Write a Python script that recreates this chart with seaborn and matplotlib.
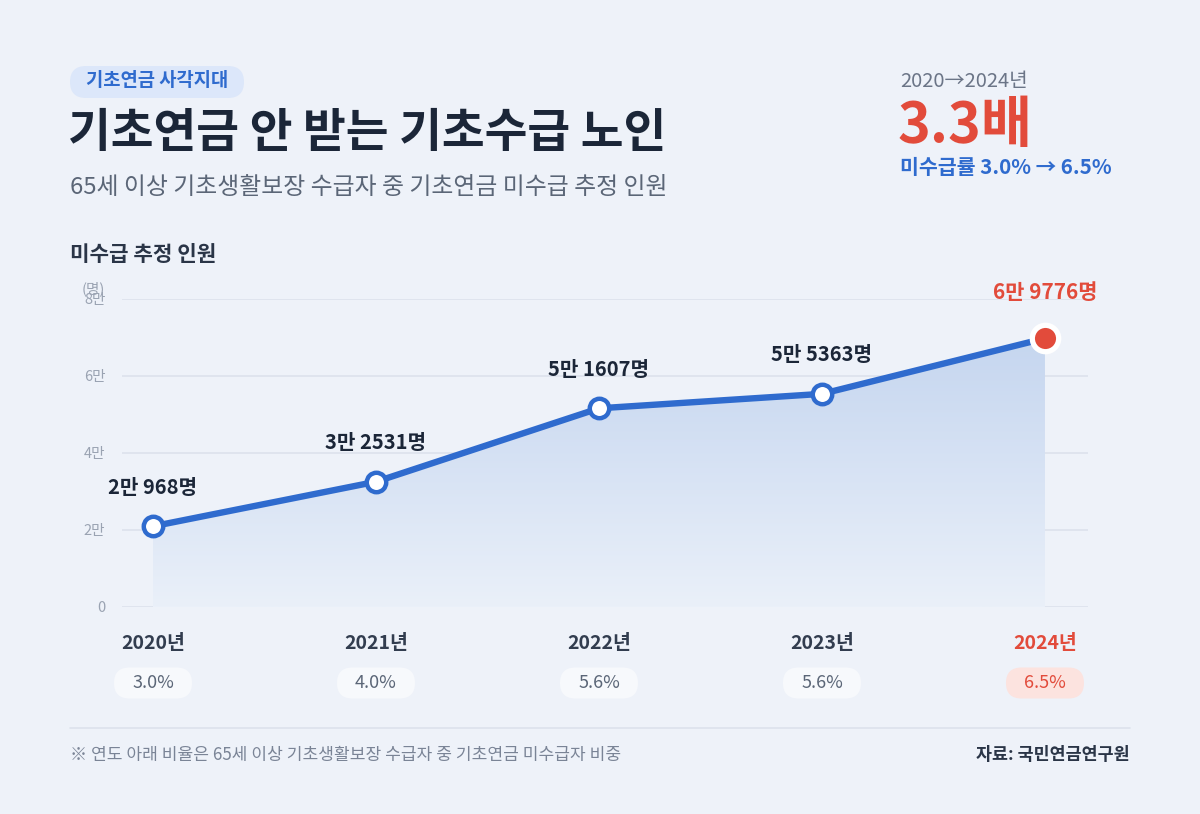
import numpy as np
import pandas as pd
import seaborn as sns
import matplotlib.pyplot as plt
from matplotlib.patches import FancyBboxPatch
from matplotlib.transforms import IdentityTransform

# 데이터
years = [2020, 2021, 2022, 2023, 2024]
year_labels = ['2020년', '2021년', '2022년', '2023년', '2024년']
counts = [20968, 32531, 51607, 55363, 69776]
count_labels = ['2만 968명', '3만 2531명', '5만 1607명', '5만 5363명', '6만 9776명']
rates = ['3.0%', '4.0%', '5.6%', '5.6%', '6.5%']
yticks = [0, 20000, 40000, 60000, 80000]
ytick_labels = ['0', '2만', '4만', '6만', '8만']

BG = '#EEF2F9'
BLUE = '#2F6BCE'
RED = '#E24B3B'
NAVY = '#1B2638'
GRAY = '#5B6677'
LIGHT = '#9AA3B2'
GRID = '#DCE2EC'
W, H = 1200, 814

sns.set_theme(style='white')
plt.rcParams['font.family'] = ['Noto Sans CJK KR', 'DejaVu Sans']
plt.rcParams['axes.unicode_minus'] = False

df = pd.DataFrame({'x': range(len(years)), 'count': counts})

fig = plt.figure(figsize=(12, 8.14), dpi=100, facecolor=BG)
ax = fig.add_axes([122 / W, 207 / H, 966 / W, 308 / H])
ax.set_facecolor(BG)


def pill(cx, cy, w, h, fc):
    # 픽셀 단위 둥근 배경 (cy는 위에서부터)
    p = FancyBboxPatch((cx - w / 2, H - cy - h / 2), w, h,
                       boxstyle='round,pad=0,rounding_size=%g' % (h / 2),
                       transform=IdentityTransform(), fc=fc, ec='none')
    fig.patches.append(p)


# 그라데이션 영역
xs = df['x'].values
poly = ax.fill_between(xs, counts, 0, color='none', lw=0)
grad = np.linspace(0, 1, 256).reshape(-1, 1)
cmap = sns.blend_palette(['#EAF0F9', '#C4D5EF'], as_cmap=True)
im = ax.imshow(grad, cmap=cmap, aspect='auto', origin='lower',
               extent=[xs[0], xs[-1], 0, 72000], zorder=1)
im.set_clip_path(poly.get_paths()[0], transform=ax.transData)

# 선
sns.lineplot(data=df, x='x', y='count', ax=ax, color=BLUE, lw=4.6,
             zorder=3, solid_capstyle='round')
ax.plot(xs[:-1], counts[:-1], 'o', ms=14, mfc='white', mec=BLUE, mew=3.2,
        zorder=4, clip_on=False)
ax.plot(xs[-1], counts[-1], 'o', ms=19, mfc=RED, mec='white', mew=3.8,
        zorder=5, clip_on=False)

ax.set_xlim(-0.139, 4.193)
ax.set_ylim(0, 80000)
ax.set_yticks(yticks)
ax.set_yticklabels(ytick_labels, color=LIGHT, fontsize=10.5)
ax.tick_params(axis='y', length=0, pad=12)
ax.set_xticks([])
ax.set_xlabel('')
ax.set_ylabel('')
ax.grid(axis='y', color=GRID, lw=1.2)
ax.set_axisbelow(True)
for s in ax.spines.values():
    s.set_visible(False)

# 값 라벨
for i, lab in enumerate(count_labels):
    last = i == len(count_labels) - 1
    ax.annotate(lab, (xs[i], counts[i]), xytext=(0, 33 if last else 28),
                textcoords='offset points', ha='center', va='center',
                fontsize=15 if last else 14.5, fontweight='bold',
                color=RED if last else NAVY, zorder=6)

# 연도 및 비율 라벨
tr = ax.get_xaxis_transform()
for i, (yl, r) in enumerate(zip(year_labels, rates)):
    last = i == len(year_labels) - 1
    ax.text(xs[i], -0.117, yl, transform=tr, ha='center', va='center',
            fontsize=14, fontweight='bold', color=RED if last else '#323D4F')
    px = ax.transData.transform((xs[i], 0))[0]
    pill(px, 683, 78, 31, '#FCE3DF' if last else '#F7F9FC')
    fig.text(px / W, 1 - 683 / H, r, ha='center', va='center',
             fontsize=13, color=RED if last else GRAY)

fig.text(93 / W, 1 - 289 / H, '(명)', ha='center', va='center',
         fontsize=10.5, color=LIGHT)

# 제목 영역
pill(157, 82, 174, 32, '#DCE7FA')
fig.text(157 / W, 1 - 81 / H, '기초연금 사각지대', ha='center', va='center',
         fontsize=13.5, fontweight='bold', color=BLUE)
fig.text(68 / W, 1 - 133 / H, '기초연금 안 받는 기초수급 노인', ha='left',
         va='center', fontsize=33.5, fontweight='bold', color=NAVY)
fig.text(70 / W, 1 - 187 / H, '65세 이상 기초생활보장 수급자 중 기초연금 미수급 추정 인원',
         ha='left', va='center', fontsize=17.2, color=GRAY)
fig.text(70 / W, 1 - 254 / H, '미수급 추정 인원', ha='left', va='center',
         fontsize=15.3, fontweight='bold', color='#2A3547')

fig.text(900 / W, 1 - 82 / H, '2020→2024년', ha='left', va='center',
         fontsize=14.5, color='#6B7587')
fig.text(898 / W, 1 - 126 / H, '3.3배', ha='left', va='center',
         fontsize=40, fontweight='bold', color=RED)
fig.text(900 / W, 1 - 167 / H, '미수급률 3.0% → 6.5%', ha='left', va='center',
         fontsize=14.8, fontweight='bold', color=BLUE)

# 하단
fig.add_artist(plt.Line2D([70 / W, 1130 / W], [1 - 728 / H] * 2,
                          transform=fig.transFigure, color=GRID, lw=1.2))
fig.text(70 / W, 1 - 755 / H,
         '※ 연도 아래 비율은 65세 이상 기초생활보장 수급자 중 기초연금 미수급자 비중',
         ha='left', va='center', fontsize=12.3, color='#7A8496')
fig.text(1130 / W, 1 - 755 / H, '자료: 국민연금연구원', ha='right', va='center',
         fontsize=12.5, fontweight='bold', color='#2A3547')

fig.savefig('out.png', dpi=100, facecolor=BG)
